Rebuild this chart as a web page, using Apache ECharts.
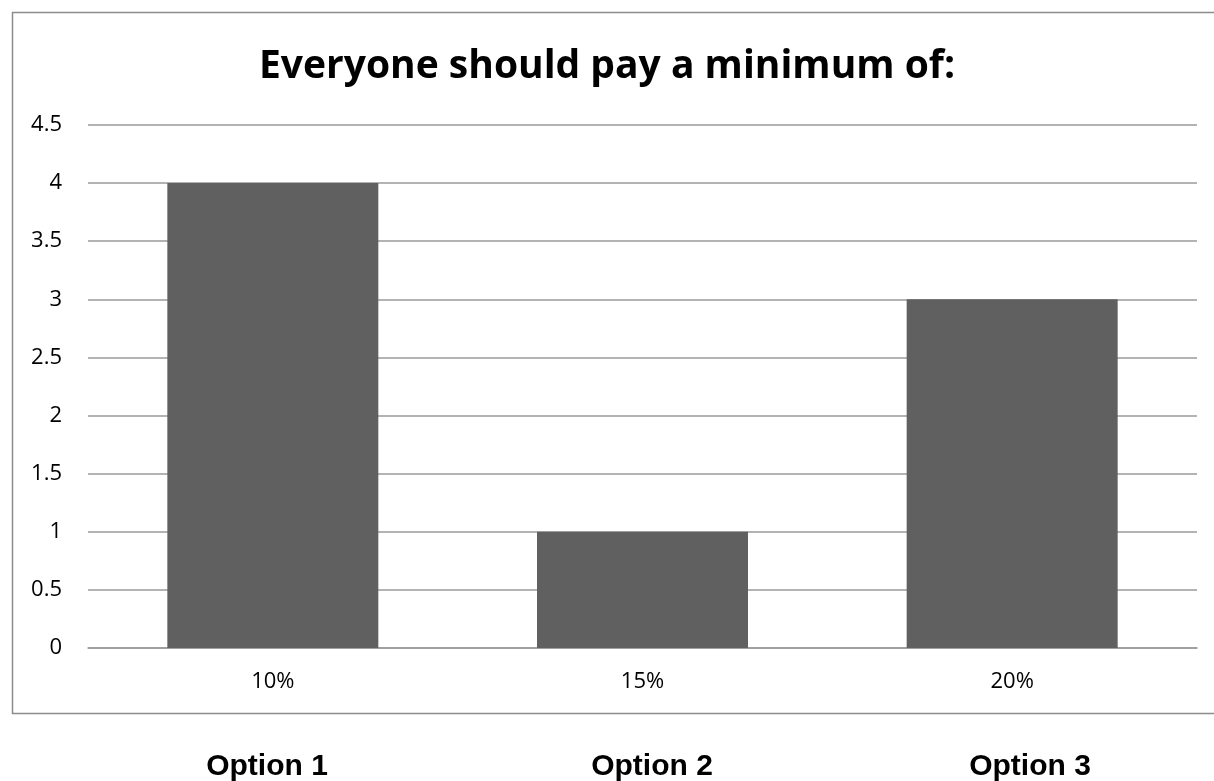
<!DOCTYPE html>
<html>
<head>
<meta charset="utf-8">
<script src="https://cdn.jsdelivr.net/npm/echarts@6/dist/echarts.min.js"></script>
<style>
html,body{margin:0;padding:0;background:#fff;}
#chart{width:1214px;height:781px;}
</style>
</head>
<body>
<div id="chart"></div>
<script>
const titleText = 'Everyone should pay a minimum of:';
const categories = ['10%', '15%', '20%'];
const values = [4, 1, 3];
const optionLabels = ['Option 1', 'Option 2', 'Option 3'];
const yMin = 0, yMax = 4.5, yStep = 0.5;

const chart = echarts.init(document.getElementById('chart'), null, {renderer: 'canvas'});
const optionX = [267, 652, 1030];
chart.setOption({
  backgroundColor: '#ffffff',
  animation: false,
  title: {
    text: titleText,
    left: 'center',
    top: 42,
    textStyle: {fontFamily: 'Open Sans', fontWeight: 'bold', fontSize: 39, color: '#000'}
  },
  grid: {left: 88, right: 17, top: 125, bottom: 133, containLabel: false},
  xAxis: {
    type: 'category',
    data: categories,
    axisTick: {show: false},
    axisLine: {lineStyle: {color: '#9a9a9a', width: 1.5}},
    axisLabel: {margin: 23, fontFamily: 'Open Sans', fontSize: 22, color: '#000'}
  },
  yAxis: {
    type: 'value',
    min: yMin, max: yMax, interval: yStep,
    axisLine: {show: false},
    axisTick: {show: false},
    splitLine: {lineStyle: {color: '#9a9a9a', width: 1.5}},
    axisLabel: {margin: 26, fontFamily: 'Open Sans', fontSize: 22, color: '#000'}
  },
  series: [{
    type: 'bar',
    data: values,
    barWidth: 211,
    itemStyle: {color: '#606060'}
  }],
  graphic: [
    {type: 'rect', shape: {x: 12.5, y: 12.5, width: 1300, height: 701}, style: {fill: 'none', stroke: '#8c8c8c', lineWidth: 1.5}, silent: true, z: -1}
  ].concat(optionLabels.map((t, i) => ({
    type: 'text', x: optionX[i], y: 767,
    style: {text: t, x: 0, y: 0, textAlign: 'center', textVerticalAlign: 'middle', font: 'bold 30px "Liberation Sans", Arial, sans-serif', fill: '#000'}
  })))
});
</script>
</body>
</html>
